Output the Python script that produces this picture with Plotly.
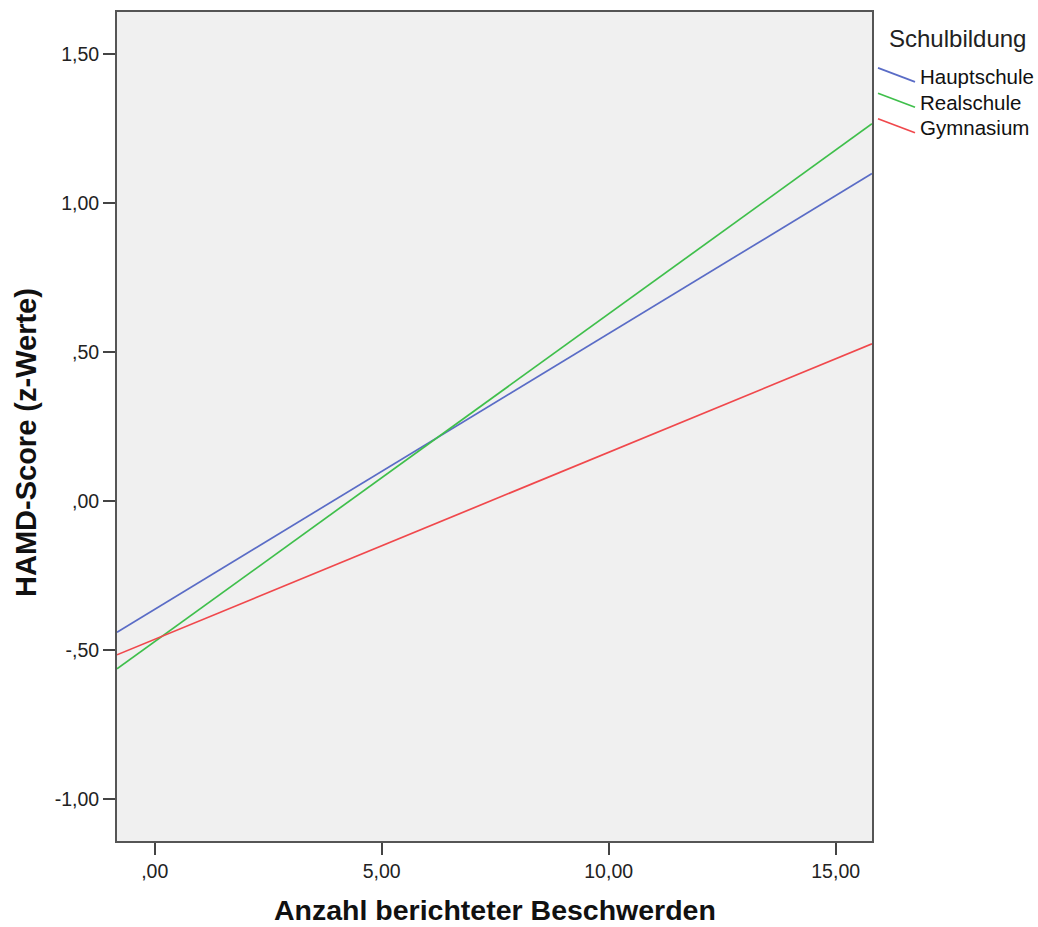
import plotly.graph_objects as go

# ---- data ----
x_ends = [-0.83, 15.80]
series_names = ["Hauptschule", "Realschule", "Gymnasium"]
haupt = [-0.440, 1.098]
real = [-0.563, 1.265]
gym = [-0.516, 0.527]
series_values = [haupt, real, gym]
series_colors = ["#5a6cc6", "#3fbf4b", "#f0484c"]

x_tickvals = [0, 5, 10, 15]
x_ticktext = [",00", "5,00", "10,00", "15,00"]
y_tickvals = [-1.0, -0.5, 0.0, 0.5, 1.0, 1.5]
y_ticktext = ["-1,00", "-,50", ",00", ",50", "1,00", "1,50"]

x_title = "Anzahl berichteter Beschwerden"
y_title = "HAMD-Score (z-Werte)"
legend_title = "Schulbildung"

FONT = "Liberation Sans, Arial, sans-serif"

W, H = 1038, 927
L, R, T, B = 117, 166, 10, 86
pw, ph = W - L - R, H - T - B


def px2paper(px, py):
    return (px - L) / pw, (H - B - py) / ph


fig = go.Figure()
for name, vals, col in zip(series_names, series_values, series_colors):
    fig.add_trace(go.Scatter(x=x_ends, y=vals, mode="lines", name=name,
                             line=dict(color=col, width=1.7), showlegend=False))

annotations = []
shapes = []
# manual legend (slanted line samples like the original)
lx, ly = px2paper(887, 37)
annotations.append(dict(x=lx, y=ly, xref="paper", yref="paper", text=legend_title,
                        showarrow=False, xanchor="left", yanchor="middle",
                        font=dict(family=FONT, size=24, color="#222")))
for i, (name, col) in enumerate(zip(series_names, series_colors)):
    cy = 75 + i * 25.5
    x0, y0 = px2paper(878, cy - 9)
    x1, y1 = px2paper(915, cy + 5)
    shapes.append(dict(type="line", xref="paper", yref="paper", x0=x0, y0=y0, x1=x1, y1=y1,
                       line=dict(color=col, width=1.7)))
    tx, ty = px2paper(918, cy)
    annotations.append(dict(x=tx, y=ty, xref="paper", yref="paper", text=name,
                            showarrow=False, xanchor="left", yanchor="middle",
                            font=dict(family=FONT, size=20.5, color="#111")))

# axis titles
ax, ay = px2paper(495, 910)
annotations.append(dict(x=ax, y=ay, xref="paper", yref="paper", text="<b>%s</b>" % x_title,
                        showarrow=False, xanchor="center", yanchor="middle",
                        font=dict(family=FONT, size=28.5, color="#111")))
yx, yy = px2paper(26, 442)
annotations.append(dict(x=yx, y=yy, xref="paper", yref="paper", text="<b>%s</b>" % y_title,
                        showarrow=False, xanchor="center", yanchor="middle", textangle=-90,
                        font=dict(family=FONT, size=29, color="#111")))

axis_common = dict(showgrid=False, zeroline=False, showline=True, linecolor="#555",
                   linewidth=2, mirror=True, ticks="outside", ticklen=12, tickwidth=2,
                   tickcolor="#444", tickfont=dict(family=FONT, size=19.5, color="#222"))

fig.update_layout(
    width=W, height=H,
    margin=dict(l=L, r=R, t=T, b=B),
    paper_bgcolor="white", plot_bgcolor="#f0f0f0",
    xaxis=dict(range=x_ends, tickvals=x_tickvals, ticktext=x_ticktext, **axis_common),
    yaxis=dict(range=[-1.1405, 1.640], tickvals=y_tickvals, ticktext=y_ticktext, **axis_common),
    annotations=annotations, shapes=shapes, showlegend=False,
)

fig.write_html("out.html", config={"displayModeBar": False},
               post_script="document.body.style.margin='0';document.body.style.overflow='hidden';")
